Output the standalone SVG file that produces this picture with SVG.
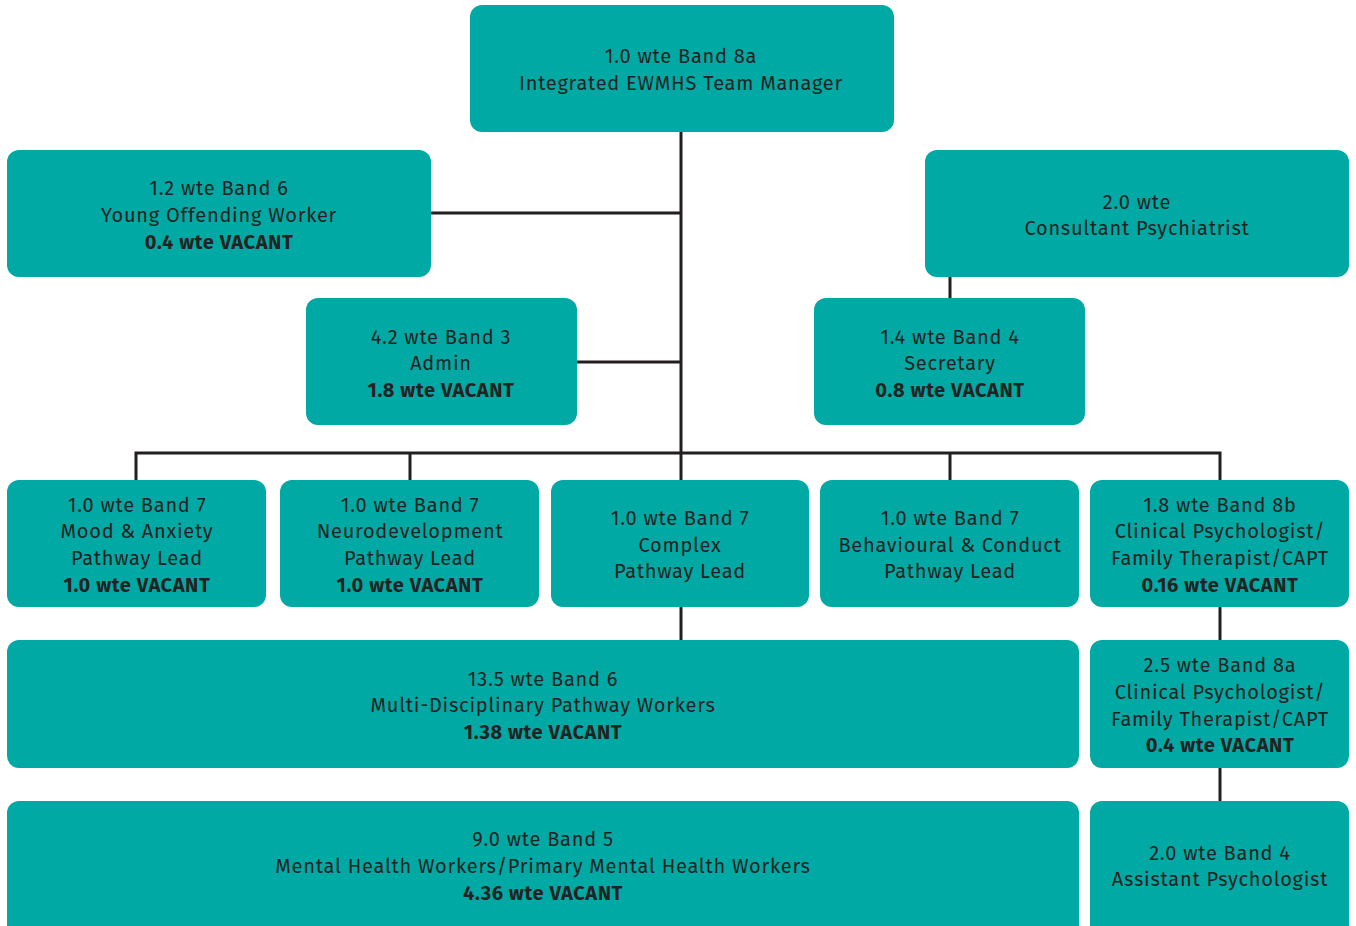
<svg xmlns="http://www.w3.org/2000/svg" width="1356" height="926" viewBox="0 0 1356 926">
<style>
.b{fill:#00A9A4}
text{font-family:"Fira Sans","Noto Sans","Liberation Sans",sans-serif;font-size:20px;fill:#222;text-anchor:middle;letter-spacing:0.75px}
.v{font-weight:bold;letter-spacing:0.6px}
.c{stroke:#231F20;stroke-width:3;fill:none}
</style>
<rect width="1356" height="926" fill="#fff"/>
<g id="connectors">
<path class="c" d="M681 132V640M431 213H681M577 362H681M136 480V453H1220V480M410 453V480M950 453V480M950 277V298M1220 607V640M1220 768V801"/>
</g>
<g id="manager"><rect class="b" x="470" y="5" width="424" height="127" rx="12"/><text x="681" y="63">1.0 wte Band 8a</text><text x="681" y="90">Integrated EWMHS Team Manager</text></g>
<g id="yot"><rect class="b" x="7" y="150" width="424" height="127" rx="12"/><text x="219" y="195">1.2 wte Band 6</text><text x="219" y="222">Young Offending Worker</text><text class="v" x="219" y="249">0.4 wte VACANT</text></g>
<g id="consultant"><rect class="b" x="925" y="150" width="424" height="127" rx="12"/><text x="1137" y="209">2.0 wte</text><text x="1137" y="235">Consultant Psychiatrist</text></g>
<g id="admin"><rect class="b" x="306" y="298" width="271" height="127" rx="12"/><text x="441" y="344">4.2 wte Band 3</text><text x="441" y="370">Admin</text><text class="v" x="441" y="397">1.8 wte VACANT</text></g>
<g id="secretary"><rect class="b" x="814" y="298" width="271" height="127" rx="12"/><text x="950" y="344">1.4 wte Band 4</text><text x="950" y="370">Secretary</text><text class="v" x="950" y="397">0.8 wte VACANT</text></g>
<g id="mood"><rect class="b" x="7" y="480" width="259" height="127" rx="12"/><text x="137" y="512">1.0 wte Band 7</text><text x="137" y="538">Mood &amp; Anxiety</text><text x="137" y="565">Pathway Lead</text><text class="v" x="137" y="592">1.0 wte VACANT</text></g>
<g id="neuro"><rect class="b" x="280" y="480" width="259" height="127" rx="12"/><text x="410" y="512">1.0 wte Band 7</text><text x="410" y="538">Neurodevelopment</text><text x="410" y="565">Pathway Lead</text><text class="v" x="410" y="592">1.0 wte VACANT</text></g>
<g id="complex"><rect class="b" x="551" y="480" width="258" height="127" rx="12"/><text x="680" y="525">1.0 wte Band 7</text><text x="680" y="552">Complex</text><text x="680" y="578">Pathway Lead</text></g>
<g id="behaviour"><rect class="b" x="820" y="480" width="259" height="127" rx="12"/><text x="950" y="525">1.0 wte Band 7</text><text x="950" y="552">Behavioural &amp; Conduct</text><text x="950" y="578">Pathway Lead</text></g>
<g id="psych8b"><rect class="b" x="1090" y="480" width="259" height="127" rx="12"/><text x="1220" y="512">1.8 wte Band 8b</text><text x="1220" y="538">Clinical Psychologist/</text><text x="1220" y="565">Family Therapist/CAPT</text><text class="v" x="1220" y="592">0.16 wte VACANT</text></g>
<g id="mdt"><rect class="b" x="7" y="640" width="1072" height="128" rx="12"/><text x="543" y="686">13.5 wte Band 6</text><text x="543" y="712">Multi-Disciplinary Pathway Workers</text><text class="v" x="543" y="739">1.38 wte VACANT</text></g>
<g id="psych8a"><rect class="b" x="1090" y="640" width="259" height="128" rx="12"/><text x="1220" y="672">2.5 wte Band 8a</text><text x="1220" y="699">Clinical Psychologist/</text><text x="1220" y="726">Family Therapist/CAPT</text><text class="v" x="1220" y="752">0.4 wte VACANT</text></g>
<g id="mhw"><rect class="b" x="7" y="801" width="1072" height="140" rx="12"/><text x="543" y="846">9.0 wte Band 5</text><text x="543" y="873">Mental Health Workers/Primary Mental Health Workers</text><text class="v" x="543" y="900">4.36 wte VACANT</text></g>
<g id="assistant"><rect class="b" x="1090" y="801" width="259" height="140" rx="12"/><text x="1220" y="860">2.0 wte Band 4</text><text x="1220" y="886">Assistant Psychologist</text></g>
</svg>
